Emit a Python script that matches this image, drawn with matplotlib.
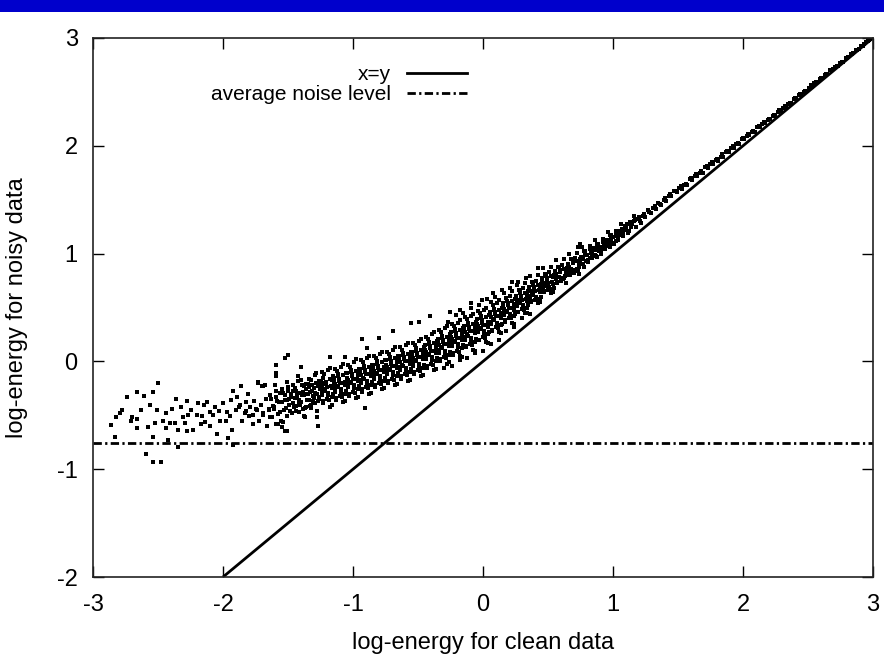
import matplotlib
matplotlib.use('Agg')
import matplotlib.pyplot as plt
from matplotlib.lines import Line2D
from matplotlib.patches import Rectangle

plt.rcParams['font.family'] = ['Liberation Sans', 'DejaVu Sans']
plt.rcParams['axes.unicode_minus'] = False

# ─── Données ───
noise_level = -0.76
diag_x = [-2, 3]

# partie gauche, clairsemée (x < -1.5)
left_x = [
    -2.78, -2.79, -2.86, -2.83, -2.66, -2.61, -2.54, -2.50, -2.66, -2.66,
    -2.58, -2.52, -2.51, -2.44, -2.44, -2.54, -2.41, -2.37, -2.35, -2.35,
    -2.42, -2.59, -2.54, -2.48, -2.36, -2.32, -2.28, -2.27, -2.29, -2.28,
    -2.23, -2.19, -2.15, -2.20, -2.16, -2.14, -2.10, -2.10, -2.05, -2.03,
    -2.00, -1.98, -1.95, -1.93, -1.92, -1.89, -1.86, -1.88, -1.96, -1.92,
    -1.85, -1.82, -1.82, -1.80, -1.77, -1.75, -1.73, -1.70, -1.68, -1.69,
    -1.64, -1.61, -1.59, -1.59, -1.55, -1.52, -1.51, -1.50, -2.74, -2.70,
    -1.79, -1.77, -1.76, -1.74, -1.72, -1.71, -1.69, -1.67, -1.66, -1.65,
    -1.81, -1.83, -1.87, -1.90, -1.94, -1.97, -2.02, -2.06, -2.08, -2.12,
    -2.17, -2.25, -2.31, -2.39, -2.46, -2.56, -2.63, -2.71, -2.82,
]
left_y = [
    -0.45, -0.48, -0.59, -0.70, -0.28, -0.32, -0.28, -0.20, -0.53, -0.62,
    -0.61, -0.57, -0.45, -0.48, -0.62, -0.70, -0.57, -0.57, -0.64, -0.79,
    -0.73, -0.86, -0.93, -0.93, -0.35, -0.42, -0.37, -0.50, -0.57, -0.65,
    -0.64, -0.39, -0.40, -0.50, -0.51, -0.56, -0.47, -0.60, -0.67, -0.46,
    -0.39, -0.55, -0.51, -0.64, -0.27, -0.33, -0.23, -0.42, -0.71, -0.78,
    -0.55, -0.38, -0.46, -0.51, -0.58, -0.44, -0.20, -0.23, -0.22, -0.50,
    -0.52, -0.42, -0.03, -0.11, -0.61, -0.65, -0.36, -0.27, -0.33, -0.52,
    -0.42, -0.50, -0.37, -0.45, -0.55, -0.40, -0.48, -0.35, -0.60, -0.44,
    -0.30, -0.48, -0.40, -0.45, -0.36, -0.47, -0.55, -0.42, -0.50, -0.38,
    -0.58, -0.45, -0.52, -0.44, -0.55, -0.40, -0.45, -0.55, -0.52,
]

# points isolés et bords de la bande
stray_x = [
    -1.50, -1.52, -1.59, -1.59, -1.73, -1.69, -1.40, -1.18, -1.06, -0.93,
    -0.89, -0.80, -0.69, -0.55, -0.49, -0.41, -0.25, -0.18, -0.09, -0.01,
    0.08, -0.91, -1.28, -1.51, -1.27, -1.59, -1.38, 0.42, 0.22, 0.75, 0.73,
    -0.30, -0.24, -0.18, -0.12, -0.06, 0.00, 0.06, 0.12, 0.18, 0.24, 0.30, 0.36,
    -0.27, -0.21, -0.15, -0.09, -0.03, 0.03, 0.09, 0.15, 0.21, 0.27, 0.33,
]
stray_y = [
    0.06, 0.03, -0.03, -0.14, -0.19, -0.23, -0.05, 0.04, 0.04, 0.21,
    0.12, 0.22, 0.28, 0.36, 0.37, 0.42, 0.46, 0.48, 0.54, 0.57,
    0.63, -0.43, -0.52, -0.65, -0.60, -0.58, -0.51, 0.87, 0.74, 1.09, 1.06,
    -0.06, -0.04, 0.01, 0.03, 0.08, 0.10, 0.16, 0.20, 0.28, 0.32, 0.40, 0.44,
    0.37, 0.43, 0.45, 0.50, 0.52, 0.58, 0.60, 0.66, 0.68, 0.74, 0.77,
]

# bande dense (-1.65 < x < 1.25), par tranches de 0.1
band_x = [
    -1.64, -1.62, -1.61, -1.59, -1.58, -1.57, -1.56, -1.63, -1.60, -1.555,
    -1.615, -1.595, -1.575, -1.565, -1.645, -1.585,
    -1.54, -1.53, -1.52, -1.51, -1.50, -1.49, -1.48, -1.47, -1.46, -1.455, -1.535, -1.505,
    -1.545, -1.525, -1.515, -1.495, -1.485, -1.475, -1.465, -1.548,
    -1.445, -1.44, -1.43, -1.42, -1.415, -1.41, -1.40, -1.39, -1.385, -1.38, -1.37, -1.36, -1.355, -1.425,
    -1.448, -1.435, -1.405, -1.395, -1.375, -1.365, -1.352, -1.412,
    -1.458, -1.442, -1.428, -1.418, -1.402, -1.388, -1.372, -1.358,
    -1.345, -1.34, -1.33, -1.325, -1.32, -1.31, -1.30, -1.295, -1.29, -1.28, -1.275, -1.27, -1.26, -1.255, -1.315,
    -1.348, -1.335, -1.305, -1.285, -1.265, -1.252, -1.322, -1.292,
    -1.342, -1.328, -1.312, -1.298, -1.282, -1.268, -1.258,
    -1.245, -1.24, -1.235, -1.23, -1.22, -1.215, -1.21, -1.20, -1.195, -1.19, -1.18, -1.175, -1.17, -1.16, -1.155, -1.225,
    -1.248, -1.238, -1.205, -1.185, -1.165, -1.152, -1.228, -1.198,
    -1.242, -1.232, -1.212, -1.192, -1.178, -1.162, -1.158,
    -1.145, -1.14, -1.135, -1.13, -1.12, -1.115, -1.11, -1.10, -1.095, -1.09, -1.08, -1.075, -1.07, -1.06, -1.055, -1.125,
    -1.148, -1.138, -1.105, -1.085, -1.065, -1.052, -1.118, -1.098,
    -1.142, -1.128, -1.112, -1.092, -1.078, -1.062, -1.058,
    -1.045, -1.04, -1.035, -1.03, -1.02, -1.015, -1.01, -1.00, -0.995, -0.99, -0.98, -0.975, -0.97, -0.96, -0.955, -1.025,
    -1.048, -1.038, -1.005, -0.985, -0.965, -0.952, -1.018, -0.998,
    -1.042, -1.028, -1.012, -0.992, -0.978, -0.962, -0.958,
    -0.945, -0.94, -0.935, -0.93, -0.92, -0.915, -0.91, -0.90, -0.895, -0.89, -0.88, -0.875, -0.87, -0.86, -0.855, -0.925,
    -0.948, -0.938, -0.905, -0.885, -0.865, -0.852, -0.918, -0.898,
    -0.942, -0.928, -0.912, -0.892, -0.878, -0.862, -0.858,
    -0.845, -0.84, -0.835, -0.83, -0.82, -0.815, -0.81, -0.80, -0.795, -0.79, -0.78, -0.775, -0.77, -0.76, -0.755, -0.825,
    -0.848, -0.838, -0.805, -0.785, -0.765, -0.752, -0.818, -0.798,
    -0.842, -0.828, -0.812, -0.792, -0.778, -0.762, -0.758,
    -0.745, -0.74, -0.735, -0.73, -0.72, -0.715, -0.71, -0.70, -0.695, -0.69, -0.68, -0.675, -0.67, -0.66, -0.655, -0.725,
    -0.748, -0.738, -0.705, -0.685, -0.665, -0.652, -0.718, -0.698,
    -0.742, -0.728, -0.712, -0.692, -0.678, -0.662, -0.658,
    -0.645, -0.64, -0.635, -0.63, -0.62, -0.615, -0.61, -0.60, -0.595, -0.59, -0.58, -0.575, -0.57, -0.56, -0.555, -0.625,
    -0.648, -0.638, -0.605, -0.585, -0.565, -0.552, -0.618, -0.598,
    -0.642, -0.628, -0.612, -0.592, -0.578, -0.562, -0.558,
    -0.545, -0.54, -0.535, -0.53, -0.52, -0.515, -0.51, -0.50, -0.495, -0.49, -0.48, -0.475, -0.47, -0.46, -0.455, -0.525,
    -0.548, -0.538, -0.505, -0.485, -0.465, -0.452, -0.518, -0.498,
    -0.542, -0.528, -0.512, -0.492, -0.478, -0.462, -0.458,
    -0.445, -0.44, -0.435, -0.43, -0.42, -0.415, -0.41, -0.40, -0.395, -0.39, -0.38, -0.375, -0.37, -0.36, -0.355, -0.425,
    -0.448, -0.438, -0.405, -0.385, -0.365, -0.352, -0.418, -0.398,
    -0.442, -0.428, -0.412, -0.392, -0.378, -0.362, -0.358,
    -0.345, -0.34, -0.335, -0.33, -0.32, -0.315, -0.31, -0.30, -0.295, -0.29, -0.28, -0.275, -0.27, -0.26, -0.255, -0.325,
    -0.348, -0.338, -0.305, -0.285, -0.265, -0.252, -0.318, -0.298,
    -0.342, -0.328, -0.312, -0.292, -0.278, -0.262, -0.258,
    -0.245, -0.24, -0.235, -0.23, -0.22, -0.215, -0.21, -0.20, -0.195, -0.19, -0.18, -0.175, -0.17, -0.16, -0.155, -0.225,
    -0.248, -0.238, -0.205, -0.185, -0.165, -0.152, -0.218, -0.198,
    -0.242, -0.228, -0.212, -0.192, -0.178, -0.162, -0.158,
    -0.145, -0.14, -0.135, -0.13, -0.12, -0.115, -0.11, -0.10, -0.095, -0.09, -0.08, -0.075, -0.07, -0.06, -0.055, -0.125,
    -0.148, -0.138, -0.105, -0.085, -0.065, -0.052, -0.118, -0.098,
    -0.142, -0.128, -0.112, -0.092, -0.078, -0.062, -0.058,
    -0.045, -0.04, -0.035, -0.03, -0.02, -0.015, -0.01, 0.00, 0.005, 0.01, 0.02, 0.025, 0.03, 0.04, 0.045, -0.025,
    -0.048, -0.038, -0.005, 0.015, 0.035, 0.048, -0.018, 0.002,
    -0.042, -0.028, -0.012, 0.008, 0.022, 0.038, 0.042,
    0.055, 0.06, 0.065, 0.07, 0.08, 0.085, 0.09, 0.10, 0.105, 0.11, 0.12, 0.125, 0.13, 0.14, 0.145, 0.075,
    0.052, 0.062, 0.095, 0.115, 0.135, 0.148, 0.082, 0.102,
    0.058, 0.072, 0.088, 0.108, 0.122, 0.138, 0.142,
    0.155, 0.16, 0.165, 0.17, 0.18, 0.185, 0.19, 0.20, 0.205, 0.21, 0.22, 0.225, 0.23, 0.24, 0.245, 0.175,
    0.152, 0.162, 0.195, 0.215, 0.235, 0.248, 0.182, 0.202,
    0.158, 0.172, 0.188, 0.208, 0.222, 0.238, 0.242,
    0.255, 0.26, 0.265, 0.27, 0.28, 0.285, 0.29, 0.30, 0.305, 0.31, 0.32, 0.325, 0.33, 0.34, 0.345, 0.275,
    0.252, 0.262, 0.295, 0.315, 0.335, 0.348, 0.282, 0.302,
    0.258, 0.272, 0.288, 0.308, 0.322, 0.338, 0.342,
    0.355, 0.36, 0.365, 0.37, 0.38, 0.385, 0.39, 0.40, 0.405, 0.41, 0.42, 0.425, 0.43, 0.44, 0.445, 0.375,
    0.352, 0.362, 0.395, 0.415, 0.435, 0.448, 0.382, 0.402,
    0.358, 0.372, 0.388, 0.408, 0.422, 0.438, 0.442,
    0.455, 0.46, 0.465, 0.47, 0.48, 0.485, 0.49, 0.50, 0.505, 0.51, 0.52, 0.525, 0.53, 0.54, 0.545, 0.475,
    0.452, 0.462, 0.495, 0.515, 0.535, 0.548, 0.482, 0.502,
    0.458, 0.472, 0.488, 0.508, 0.522, 0.538, 0.542,
    0.555, 0.56, 0.565, 0.57, 0.58, 0.585, 0.59, 0.60, 0.61, 0.62, 0.625, 0.63, 0.64, 0.645,
    0.552, 0.575, 0.595, 0.615, 0.635, 0.648,
    0.558, 0.572, 0.588, 0.608, 0.622, 0.638, 0.642,
    0.655, 0.66, 0.665, 0.67, 0.68, 0.685, 0.69, 0.70, 0.71, 0.72, 0.725, 0.73, 0.74, 0.745,
    0.652, 0.675, 0.695, 0.715, 0.735, 0.748,
    0.658, 0.672, 0.688, 0.708, 0.722, 0.738, 0.742,
    0.755, 0.76, 0.77, 0.775, 0.78, 0.79, 0.80, 0.81, 0.82, 0.825, 0.83, 0.84,
    0.752, 0.785, 0.805, 0.835,
    0.758, 0.772, 0.788, 0.808, 0.822, 0.838,
    0.855, 0.86, 0.87, 0.875, 0.88, 0.89, 0.90, 0.91, 0.92, 0.925, 0.93, 0.94,
    0.852, 0.885, 0.905, 0.935,
    0.858, 0.872, 0.888, 0.908, 0.922, 0.938,
    0.955, 0.96, 0.97, 0.975, 0.98, 0.99, 1.00, 1.01, 1.02, 1.025, 1.03, 1.04,
    0.952, 0.985, 1.005, 1.035,
    0.958, 0.972, 0.988, 1.008, 1.022, 1.038,
    1.055, 1.06, 1.07, 1.08, 1.09, 1.10, 1.11, 1.12, 1.13, 1.14,
    1.058, 1.078, 1.098, 1.118, 1.138,
    1.158, 1.178, 1.198, 1.218, 1.238,
]
band_y = [
    -0.31, -0.52, -0.44, -0.27, -0.58, -0.38, -0.47, -0.35, -0.22, -0.55,
    -0.41, -0.33, -0.49, -0.29, -0.45, -0.37,
    -0.29, -0.45, -0.36, -0.51, -0.24, -0.40, -0.33, -0.48, -0.27, -0.42, -0.56, -0.19,
    -0.38, -0.31, -0.43, -0.35, -0.46, -0.30, -0.39, -0.26,
    -0.25, -0.41, -0.33, -0.18, -0.47, -0.29, -0.38, -0.22, -0.44, -0.31, -0.52, -0.26, -0.36, -0.14,
    -0.34, -0.27, -0.40, -0.31, -0.23, -0.42, -0.30, -0.36,
    -0.22, -0.46, -0.30, -0.39, -0.17, -0.28, -0.43, -0.21,
    -0.21, -0.36, -0.28, -0.43, -0.17, -0.32, -0.25, -0.39, -0.13, -0.30, -0.46, -0.23, -0.35, -0.19, -0.27,
    -0.30, -0.24, -0.37, -0.20, -0.33, -0.26, -0.40, -0.29,
    -0.16, -0.41, -0.22, -0.34, -0.11, -0.37, -0.18,
    -0.18, -0.31, -0.24, -0.39, -0.12, -0.27, -0.21, -0.35, -0.08, -0.29, -0.16, -0.42, -0.23, -0.33, -0.14, -0.26,
    -0.22, -0.28, -0.19, -0.36, -0.25, -0.30, -0.15, -0.24,
    -0.10, -0.37, -0.20, -0.31, -0.06, -0.40, -0.17,
    -0.15, -0.28, -0.21, -0.36, -0.09, -0.24, -0.18, -0.32, -0.05, -0.26, -0.13, -0.38, -0.20, -0.30, -0.11, -0.23,
    -0.19, -0.25, -0.16, -0.33, -0.22, -0.27, -0.12, -0.20,
    -0.07, -0.34, -0.14, -0.29, -0.02, -0.37, -0.19,
    -0.11, -0.24, -0.17, -0.32, -0.05, -0.20, -0.14, -0.28, -0.01, -0.22, -0.09, -0.34, -0.16, -0.26, -0.07, -0.19,
    -0.15, -0.21, -0.12, -0.29, -0.18, -0.23, -0.08, -0.16,
    -0.03, -0.30, -0.10, -0.25, 0.02, -0.33, -0.13,
    -0.07, -0.20, -0.13, -0.28, -0.01, -0.16, -0.10, -0.24, 0.03, -0.18, -0.05, -0.30, -0.12, -0.22, -0.03, -0.15,
    -0.11, -0.17, -0.08, -0.25, -0.14, -0.19, -0.04, -0.12,
    0.01, -0.26, -0.06, -0.21, 0.05, -0.29, -0.09,
    -0.03, -0.16, -0.09, -0.24, 0.03, -0.12, -0.06, -0.20, 0.07, -0.14, -0.01, -0.26, -0.08, -0.18, 0.01, -0.11,
    -0.07, -0.13, -0.04, -0.21, -0.10, -0.15, 0.00, -0.08,
    0.05, -0.22, -0.02, -0.17, 0.09, -0.25, -0.05,
    0.01, -0.12, -0.05, -0.20, 0.07, -0.08, -0.02, -0.16, 0.11, -0.10, 0.03, -0.22, -0.04, -0.14, 0.05, -0.07,
    -0.03, -0.09, 0.00, -0.17, -0.06, -0.11, 0.04, -0.04,
    0.09, -0.18, 0.02, -0.13, 0.13, -0.21, -0.01,
    0.05, -0.08, -0.01, -0.16, 0.11, -0.04, 0.02, -0.12, 0.15, -0.06, 0.07, -0.18, 0.00, -0.10, 0.09, -0.03,
    0.01, -0.05, 0.04, -0.13, -0.02, -0.07, 0.08, 0.00,
    0.13, -0.14, 0.06, -0.09, 0.17, -0.17, 0.03,
    0.09, -0.04, 0.03, -0.12, 0.15, 0.00, 0.06, -0.08, 0.19, -0.02, 0.11, -0.14, 0.04, -0.06, 0.13, 0.01,
    0.05, -0.01, 0.08, -0.09, 0.02, -0.03, 0.12, 0.04,
    0.17, -0.10, 0.10, -0.05, 0.21, -0.13, 0.07,
    0.15, 0.02, 0.09, -0.06, 0.21, 0.06, 0.12, -0.02, 0.25, 0.04, 0.17, -0.08, 0.10, 0.00, 0.19, 0.07,
    0.11, 0.05, 0.14, -0.03, 0.08, 0.03, 0.18, 0.10,
    0.23, -0.04, 0.16, 0.01, 0.27, -0.07, 0.13,
    0.21, 0.08, 0.15, 0.00, 0.27, 0.12, 0.18, 0.04, 0.31, 0.10, 0.23, -0.02, 0.16, 0.06, 0.25, 0.13,
    0.17, 0.11, 0.20, 0.03, 0.14, 0.09, 0.24, 0.16,
    0.29, 0.02, 0.22, 0.07, 0.33, -0.01, 0.19,
    0.27, 0.14, 0.21, 0.06, 0.33, 0.18, 0.24, 0.10, 0.36, 0.16, 0.29, 0.05, 0.22, 0.12, 0.31, 0.19,
    0.23, 0.17, 0.26, 0.09, 0.20, 0.15, 0.30, 0.22,
    0.35, 0.08, 0.28, 0.13, 0.38, 0.04, 0.25,
    0.33, 0.20, 0.27, 0.13, 0.39, 0.24, 0.30, 0.16, 0.42, 0.22, 0.35, 0.11, 0.28, 0.18, 0.37, 0.25,
    0.29, 0.23, 0.32, 0.15, 0.26, 0.21, 0.36, 0.28,
    0.41, 0.14, 0.34, 0.19, 0.44, 0.10, 0.31,
    0.39, 0.27, 0.33, 0.20, 0.45, 0.30, 0.36, 0.23, 0.48, 0.28, 0.41, 0.18, 0.34, 0.25, 0.43, 0.31,
    0.35, 0.29, 0.38, 0.22, 0.32, 0.27, 0.42, 0.34,
    0.47, 0.20, 0.40, 0.25, 0.50, 0.17, 0.37,
    0.46, 0.35, 0.41, 0.29, 0.52, 0.38, 0.44, 0.32, 0.54, 0.36, 0.48, 0.27, 0.42, 0.34, 0.50, 0.39,
    0.43, 0.37, 0.46, 0.31, 0.40, 0.35, 0.49, 0.42,
    0.55, 0.28, 0.48, 0.33, 0.57, 0.26, 0.45,
    0.54, 0.43, 0.49, 0.38, 0.59, 0.46, 0.52, 0.40, 0.61, 0.44, 0.56, 0.36, 0.50, 0.42, 0.58, 0.47,
    0.51, 0.45, 0.54, 0.40, 0.48, 0.44, 0.56, 0.50,
    0.63, 0.37, 0.56, 0.42, 0.65, 0.35, 0.53,
    0.61, 0.51, 0.57, 0.46, 0.66, 0.54, 0.59, 0.49, 0.68, 0.52, 0.63, 0.45, 0.58, 0.50, 0.65, 0.55,
    0.59, 0.53, 0.61, 0.48, 0.56, 0.52, 0.63, 0.57,
    0.71, 0.46, 0.64, 0.51, 0.73, 0.45, 0.62,
    0.69, 0.59, 0.65, 0.55, 0.74, 0.62, 0.67, 0.57, 0.75, 0.60, 0.71, 0.54, 0.66, 0.58, 0.72, 0.63,
    0.67, 0.61, 0.69, 0.57, 0.64, 0.60, 0.71, 0.65,
    0.79, 0.56, 0.72, 0.60, 0.80, 0.55, 0.70,
    0.77, 0.68, 0.73, 0.64, 0.81, 0.70, 0.75, 0.66, 0.83, 0.69, 0.79, 0.63, 0.74, 0.67, 0.80, 0.71,
    0.75, 0.69, 0.77, 0.66, 0.72, 0.68, 0.79, 0.73,
    0.87, 0.65, 0.80, 0.69, 0.88, 0.64, 0.78,
    0.84, 0.76, 0.81, 0.73, 0.88, 0.78, 0.83, 0.75, 0.89, 0.77, 0.86, 0.79, 0.82, 0.87,
    0.82, 0.78, 0.85, 0.76, 0.80, 0.84,
    0.94, 0.74, 0.88, 0.77, 0.95, 0.73, 0.86,
    0.90, 0.83, 0.88, 0.80, 0.95, 0.85, 0.91, 0.82, 0.96, 0.86, 0.93, 0.84, 0.90, 0.95,
    0.89, 0.86, 0.92, 0.85, 0.88, 0.91,
    1.00, 0.82, 0.95, 0.85, 1.01, 0.81, 0.93,
    0.97, 0.90, 0.95, 0.88, 1.02, 0.93, 0.99, 0.94, 1.04, 0.96, 1.01, 0.98,
    0.96, 0.99, 0.92, 1.00,
    1.06, 0.90, 1.02, 0.93, 1.07, 0.96,
    1.05, 0.99, 1.03, 0.97, 1.09, 1.02, 1.06, 1.00, 1.11, 1.04, 1.08, 1.07,
    1.03, 1.07, 1.01, 1.09,
    1.13, 0.98, 1.09, 1.01, 1.14, 1.04,
    1.13, 1.08, 1.11, 1.06, 1.17, 1.10, 1.15, 1.09, 1.19, 1.12, 1.16, 1.14,
    1.12, 1.14, 1.10, 1.17,
    1.20, 1.07, 1.17, 1.10, 1.21, 1.13,
    1.21, 1.17, 1.23, 1.19, 1.26, 1.22, 1.27, 1.21, 1.29, 1.25,
    1.27, 1.16, 1.25, 1.19, 1.28,
    1.35, 1.25, 1.34, 1.28, 1.37,
]

# partie haute, presque sur la diagonale (x > 1.15)
top_x = [
    1.15, 1.17, 1.19, 1.21, 1.23, 1.25, 1.27, 1.29, 1.31, 1.33, 1.35, 1.37,
    1.39, 1.41, 1.43, 1.45, 1.47, 1.49, 1.51, 1.53, 1.55, 1.57, 1.59, 1.61,
    1.63, 1.65, 1.67, 1.69, 1.71, 1.73, 1.75, 1.77, 1.79, 1.81, 1.83, 1.85,
    1.87, 1.89, 1.91, 1.93, 1.95, 1.97, 1.99, 2.01, 2.03, 2.05, 2.07, 2.09,
    2.11, 2.13, 2.15, 2.17, 2.19, 2.21, 2.23, 2.25, 2.27, 2.29, 2.31, 2.33,
    2.35, 2.37, 2.39, 2.41, 2.43, 2.45, 2.47, 2.49, 2.51, 2.53, 2.55, 2.57,
    2.59, 2.61, 2.63, 2.65, 2.67, 2.69, 2.71, 2.73, 2.75, 2.77, 2.79, 2.81,
    2.83, 2.85, 2.87, 2.89, 2.91, 2.93, 2.95, 2.97, 2.98, 2.99,
    1.16, 1.20, 1.24, 1.28, 1.32, 1.36, 1.40, 1.44, 1.48, 1.52, 1.56, 1.60,
    1.64, 1.68, 1.72, 1.76, 1.80, 1.84, 1.88, 1.92, 1.96, 2.00, 2.04, 2.08,
    2.12, 2.16, 2.20, 2.24, 2.28, 2.32, 2.36, 2.40, 2.44, 2.48, 2.52, 2.56,
    2.60, 2.64, 2.68, 2.72, 2.76, 2.80, 2.84, 2.88, 2.92, 2.96,
]
top_y = [
    1.27, 1.31, 1.32, 1.30, 1.35, 1.34, 1.40, 1.38, 1.42, 1.41, 1.47, 1.45,
    1.50, 1.49, 1.53, 1.53, 1.58, 1.57, 1.61, 1.60, 1.64, 1.64, 1.69, 1.68,
    1.72, 1.72, 1.75, 1.75, 1.80, 1.79, 1.83, 1.83, 1.87, 1.86, 1.90, 1.90,
    1.94, 1.94, 1.98, 1.98, 2.02, 2.02, 2.06, 2.06, 2.09, 2.10, 2.13, 2.13,
    2.17, 2.17, 2.20, 2.21, 2.24, 2.25, 2.28, 2.28, 2.31, 2.32, 2.35, 2.36,
    2.39, 2.40, 2.43, 2.44, 2.47, 2.47, 2.50, 2.51, 2.54, 2.55, 2.58, 2.59,
    2.62, 2.63, 2.66, 2.67, 2.70, 2.71, 2.73, 2.74, 2.77, 2.78, 2.81, 2.82,
    2.85, 2.86, 2.89, 2.90, 2.93, 2.94, 2.96, 2.98, 2.99, 3.00,
    1.30, 1.33, 1.37, 1.39, 1.44, 1.46, 1.52, 1.55, 1.58, 1.63, 1.65, 1.70,
    1.74, 1.77, 1.81, 1.85, 1.88, 1.92, 1.95, 2.00, 2.03, 2.07, 2.11, 2.14,
    2.18, 2.22, 2.25, 2.29, 2.33, 2.37, 2.40, 2.44, 2.48, 2.51, 2.56, 2.59,
    2.63, 2.67, 2.70, 2.74, 2.78, 2.81, 2.85, 2.89, 2.93, 2.97,
]

x_ticks = [-3, -2, -1, 0, 1, 2, 3]
y_ticks = [-2, -1, 0, 1, 2, 3]

# ─── Figure ───
fig = plt.figure(figsize=(8.84, 6.64), dpi=100)
fig.patches.append(Rectangle((0, 652 / 664), 1, 12 / 664, transform=fig.transFigure,
                             facecolor='#0000CC', edgecolor='none'))
ax = fig.add_axes([93 / 884, 87 / 664, 780 / 884, 539 / 664])

dot_style = dict(ls='none', marker='s', ms=2.8, mew=0, color='black')
for xs, ys in [(left_x, left_y), (stray_x, stray_y), (band_x, band_y), (top_x, top_y)]:
    ax.plot(xs, ys, **dot_style)

nd = (3, 1.2, 0.8, 1.2)
ax.plot(diag_x, diag_x, color='black', lw=2.0, solid_capstyle='butt')
hl = ax.axhline(noise_level, color='black', lw=2.0)
hl.set_dashes(nd)

ax.set_xlim(-3, 3)
ax.set_ylim(-2, 3)
ax.set_xticks(x_ticks)
ax.set_yticks(y_ticks)
ax.tick_params(direction='in', length=8, width=1.0, top=True, right=True, labelsize=17)
ax.tick_params(axis='y', pad=11)
ax.tick_params(axis='x', pad=12)
for s in ax.spines.values():
    s.set_linewidth(1.2)
    s.set_color('#222222')

ax.set_xlabel('log-energy for clean data', fontsize=17)
ax.set_ylabel('log-energy for noisy data', fontsize=17)
ax.xaxis.label.set_va('center')
ax.yaxis.label.set_va('center')
ax.xaxis.set_label_coords(0.5, -0.1224)
ax.yaxis.set_label_coords(-0.0974, 0.5)

h1 = Line2D([], [], color='black', lw=2.0)
h2 = Line2D([], [], color='black', lw=2.0, dashes=nd)
ax.legend([h1, h2], ['x=y', 'average noise level'], loc='upper right',
          bbox_to_anchor=(0.4795, 0.95), frameon=False, markerfirst=False,
          fontsize=15, handlelength=2.9, handletextpad=0.75, borderpad=0,
          borderaxespad=0, labelspacing=0.05)

fig.savefig('out.png', dpi=100)
